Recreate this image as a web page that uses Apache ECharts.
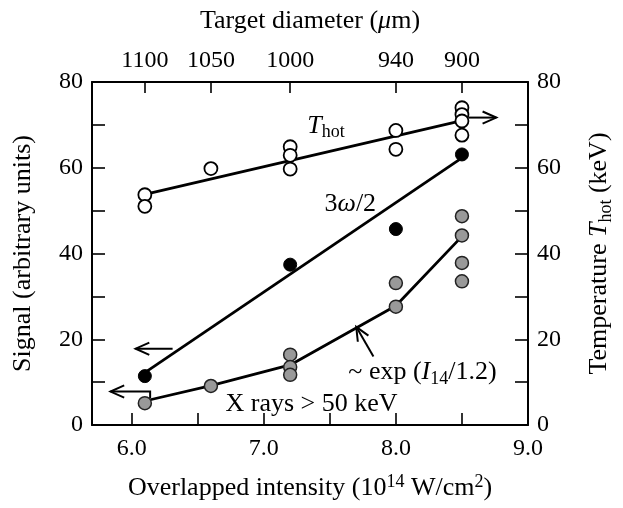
<!DOCTYPE html>
<html><head><meta charset="utf-8">
<script src="https://cdn.jsdelivr.net/npm/echarts@6/dist/echarts.min.js"></script>
<style>html,body{margin:0;padding:0;background:#fff}#c{width:623px;height:508px}</style>
</head><body><div id="c"></div>
<script>
// ---- data ----
const thotX = [6.1, 6.1, 6.6, 7.2, 7.2, 7.2, 8.0, 8.0, 8.5, 8.5, 8.5, 8.5];
const thotY = [53.7, 51.0, 59.8, 64.9, 62.9, 59.7, 68.7, 64.3, 74.0, 72.4, 70.9, 67.6];
const signalX = [6.1, 7.2, 8.0, 8.5];
const signalY = [11.4, 37.4, 45.7, 63.1];
const xrayX = [6.1, 6.6, 7.2, 7.2, 7.2, 8.0, 8.0, 8.5, 8.5, 8.5, 8.5];
const xrayY = [5.1, 9.1, 16.4, 13.5, 11.7, 33.1, 27.6, 48.7, 44.2, 37.8, 33.5];
const thotFitX = [6.1, 8.5];
const thotFitY = [53.8, 71.0];
const signalFitX = [6.1, 8.5];
const signalFitY = [12.2, 62.3];
const xrayFitX = [6.1, 6.6, 7.2, 8.0, 8.5];
const xrayFitY = [5.6, 9.2, 14.0, 27.8, 44.0];
const intensityTicks = [6.0, 6.5, 7.0, 7.5, 8.0, 8.5, 9.0];
const intensityLabels = [6.0, 7.0, 8.0, 9.0];
const diameterPos = [6.1, 6.6, 7.2, 8.0, 8.5];
const diameterLabels = ['1100', '1050', '1000', '940', '900'];
const signalTicks = [0, 10, 20, 30, 40, 50, 60, 70, 80];
const signalLabels = [0, 20, 40, 60, 80];
// annotation anchors (data coordinates)
const arrowThot = [[8.55, 71.7], [8.76, 71.7]];
const arrowSignal = [[6.31, 17.8], [6.03, 17.8]];
const arrowXray = [[6.14, 6.3], [6.14, 7.8], [5.84, 7.8]];
const arrowExp = [[7.83, 16.0], [7.70, 22.9]];
const labelThot = [7.33, 69.8];
const labelOmega = [7.46, 51.6];
const labelXray = [6.71, 4.9];
const labelExp = [7.64, 12.3];

const FONT = 'Liberation Serif';
const zip = (a, b) => a.map((v, i) => [v, b[i]]);
function richDict(key) {
  const c = {}; c[key] = '#000';
  return {
    n: Object.assign({fontFamily: FONT, fontSize: 26}, c),
    i: Object.assign({fontFamily: FONT, fontSize: 26, fontStyle: 'italic'}, c),
    sub: Object.assign({fontFamily: FONT, fontSize: 18, padding: [14, 0, 0, 0]}, c),
    sup: Object.assign({fontFamily: FONT, fontSize: 18, padding: [0, 0, 12, 0]}, c)
  };
}
const axisLine = {show: true, onZero: false, lineStyle: {color: '#000', width: 2}};
const tickStyle = {color: '#000', width: 1.6};
const labelStyle = {fontFamily: FONT, fontSize: 24, color: '#000'};

const chart = echarts.init(document.getElementById('c'));
chart.setOption({
  animation: false,
  backgroundColor: '#fff',
  grid: {left: 92, right: 90, top: 82, bottom: 83},
  xAxis: [{
    type: 'value', position: 'bottom', min: 5.7, max: 9.0,
    axisLine: axisLine,
    axisTick: {show: true, inside: true, length: 12, lineStyle: tickStyle, customValues: intensityTicks},
    axisLabel: Object.assign({customValues: intensityLabels, margin: 12, formatter: v => v.toFixed(1)}, labelStyle),
    splitLine: {show: false},
    name: '{n|Overlapped intensity (10}{sup|14}{n| W/cm}{sup|2}{n|)}',
    nameLocation: 'middle', nameGap: 48,
    nameTextStyle: {rich: richDict('color')}
  }, {
    type: 'value', position: 'top', min: 5.7, max: 9.0,
    axisLine: axisLine,
    axisTick: {show: true, inside: true, length: 11, lineStyle: tickStyle, customValues: diameterPos},
    axisLabel: Object.assign({customValues: diameterPos, margin: 9,
      formatter: v => { let k = 0; diameterPos.forEach((p, i) => { if (Math.abs(p - v) < 1e-6) k = i; }); return diameterLabels[k]; }}, labelStyle),
    splitLine: {show: false},
    name: '{n|Target diameter (}{i|μ}{n|m)}',
    nameLocation: 'middle', nameGap: 48,
    nameTextStyle: {rich: richDict('color')}
  }],
  yAxis: [{
    type: 'value', position: 'left', min: 0, max: 80,
    axisLine: axisLine,
    axisTick: {show: true, inside: true, length: 13, lineStyle: tickStyle, customValues: signalTicks},
    axisLabel: Object.assign({customValues: signalLabels, margin: 9}, labelStyle),
    splitLine: {show: false},
    name: '{n|Signal (arbitrary units)}',
    nameLocation: 'middle', nameRotate: 90, nameGap: 56,
    nameTextStyle: {rich: richDict('color')}
  }, {
    type: 'value', position: 'right', min: 0, max: 80,
    axisLine: axisLine,
    axisTick: {show: true, inside: true, length: 13, lineStyle: tickStyle, customValues: signalTicks},
    axisLabel: Object.assign({customValues: signalLabels, margin: 9}, labelStyle),
    splitLine: {show: false},
    name: '{n|Temperature }{i|T}{sub|hot}{n| (keV)}',
    nameLocation: 'middle', nameRotate: 90, nameGap: 55,
    nameTextStyle: {rich: richDict('color')}
  }],
  series: [
    {type: 'line', xAxisIndex: 0, yAxisIndex: 1, data: zip(thotFitX, thotFitY), symbol: 'none',
     lineStyle: {color: '#000', width: 2.8}, z: 2},
    {type: 'line', xAxisIndex: 0, yAxisIndex: 0, data: zip(signalFitX, signalFitY), symbol: 'none',
     lineStyle: {color: '#000', width: 2.8}, z: 2},
    {type: 'line', xAxisIndex: 0, yAxisIndex: 0, data: zip(xrayFitX, xrayFitY), symbol: 'none',
     lineStyle: {color: '#000', width: 2.8}, z: 2},
    {type: 'scatter', xAxisIndex: 0, yAxisIndex: 1, data: zip(thotX, thotY), symbol: 'circle', symbolSize: 13,
     itemStyle: {color: '#fff', borderColor: '#000', borderWidth: 1.8, opacity: 1}, z: 3},
    {type: 'scatter', xAxisIndex: 0, yAxisIndex: 0, data: zip(signalX, signalY), symbol: 'circle', symbolSize: 13,
     itemStyle: {color: '#000', borderColor: '#000', borderWidth: 1, opacity: 1}, z: 3},
    {type: 'scatter', xAxisIndex: 0, yAxisIndex: 0, data: zip(xrayX, xrayY), symbol: 'circle', symbolSize: 13,
     itemStyle: {color: '#999', borderColor: '#222', borderWidth: 1.5, opacity: 1}, z: 3}
  ]
});

function toPx(p) { return chart.convertToPixel({xAxisIndex: 0, yAxisIndex: 0}, p); }
function arrow(pts) {
  const px = pts.map(toPx);
  const n = px.length, tip = px[n - 1], prev = px[n - 2];
  const ang = Math.atan2(tip[1] - prev[1], tip[0] - prev[0]);
  const L = 15, a = 0.42;
  const h1 = [tip[0] - L * Math.cos(ang - a), tip[1] - L * Math.sin(ang - a)];
  const h2 = [tip[0] - L * Math.cos(ang + a), tip[1] - L * Math.sin(ang + a)];
  const st = {stroke: '#000', lineWidth: 2, fill: null};
  return [
    {type: 'polyline', shape: {points: px}, style: st, z: 10},
    {type: 'polyline', shape: {points: [h1, tip, h2]}, style: st, z: 10}
  ];
}
function label(pos, text) {
  const p = toPx(pos);
  return {type: 'text', x: p[0], y: p[1], z: 10,
    style: {text: text, align: 'left', verticalAlign: 'middle', rich: richDict('fill'), fill: '#000', font: '26px ' + FONT}};
}
chart.setOption({
  graphic: [].concat(
    arrow(arrowThot), arrow(arrowSignal), arrow(arrowXray), arrow(arrowExp),
    [label(labelThot, '{i|T}{sub|hot}'),
     label(labelOmega, '{n|3}{i|ω}{n|/2}'),
     label(labelXray, '{n|X rays > 50 keV}'),
     label(labelExp, '{n|~ exp (}{i|I}{sub|14}{n|/1.2)}')]
  )
});
</script>
</body></html>
